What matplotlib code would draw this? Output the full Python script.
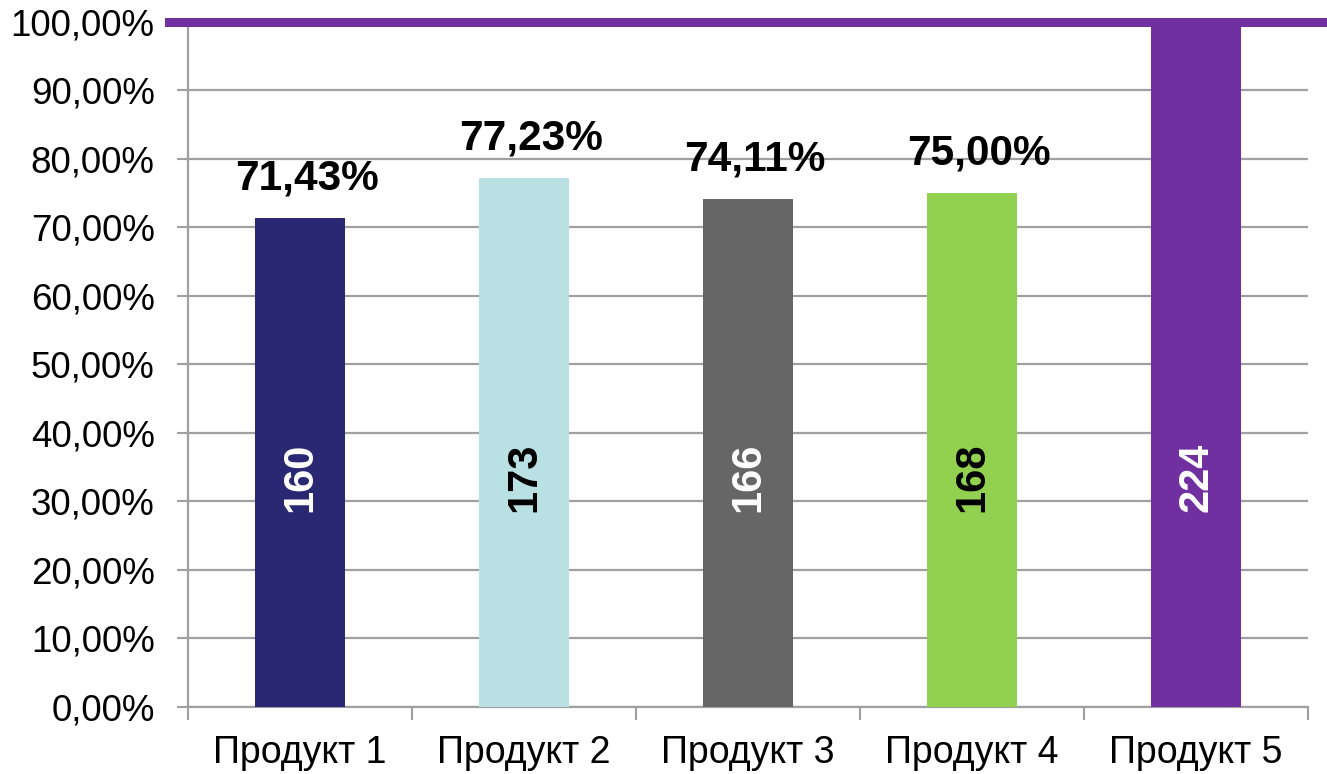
import numpy as np
import matplotlib
matplotlib.use("Agg")
import matplotlib.pyplot as plt
from matplotlib.ticker import FixedLocator

plt.rcParams['font.family'] = ['Liberation Sans', 'DejaVu Sans']

# данные
products = ['Продукт 1', 'Продукт 2', 'Продукт 3', 'Продукт 4', 'Продукт 5']
counts = [160, 173, 166, 168, 224]
shares = [0.7143, 0.7723, 0.7411, 0.7500, 1.0000]
share_labels = ['71,43%', '77,23%', '74,11%', '75,00%', '']
bar_colors = ['#2a2872', '#b9e0e3', '#666666', '#92d050', '#7030a0']
count_colors = ['white', 'black', 'white', 'black', 'white']
y_ticks = [0.0, 0.1, 0.2, 0.3, 0.4, 0.5, 0.6, 0.7, 0.8, 0.9, 1.0]
y_tick_labels = ['0,00%', '10,00%', '20,00%', '30,00%', '40,00%', '50,00%',
                 '60,00%', '70,00%', '80,00%', '90,00%', '100,00%']

fig = plt.figure(figsize=(13.27, 7.74), dpi=100)
ax = fig.add_axes([0.1417, 0.0866, 0.844, 0.885])

x = np.arange(len(products))
bars = ax.bar(x, shares, width=0.40, color=bar_colors, zorder=3)

ax.set_xlim(-0.5, 4.5)
ax.set_ylim(0, 1.0)

# сетка
ax.set_yticks(y_ticks)
ax.set_yticklabels(y_tick_labels, fontsize=26.5)
ax.yaxis.grid(True, color='#a0a0a0', linewidth=1.6, zorder=0)
ax.set_axisbelow(True)
ax.tick_params(axis='y', length=8, width=1.5, color='#a0a0a0', pad=16)

ax.set_xticks(x)
ax.set_xticklabels(products, fontsize=27)
ax.tick_params(axis='x', which='major', length=0, pad=20)
ax.xaxis.set_minor_locator(FixedLocator(np.arange(-0.5, 5.0, 1.0)))
ax.tick_params(axis='x', which='minor', length=9, width=1.5, color='#a0a0a0')

for side in ['top', 'right']:
    ax.spines[side].set_visible(False)
for side in ['left', 'bottom']:
    ax.spines[side].set_color('#a0a0a0')
    ax.spines[side].set_linewidth(1.6)

# линия 100%
ax.axhline(1.0, xmin=-0.017, xmax=1.02, color='#7030a0', linewidth=6.5,
           clip_on=False, zorder=4)

# подписи
for xi, s, lab in zip(x, shares, share_labels):
    if lab:
        ax.annotate(lab, (xi, s), xytext=(5, 14), textcoords='offset points',
                    ha='center', va='bottom', fontsize=30.5, fontweight='bold')

for xi, c, col in zip(x, counts, count_colors):
    ax.text(xi, 0.335, str(c), rotation=90, ha='center', va='center',
            fontsize=30, fontweight='bold', color=col, zorder=5)

fig.savefig('out.png', dpi=100)
